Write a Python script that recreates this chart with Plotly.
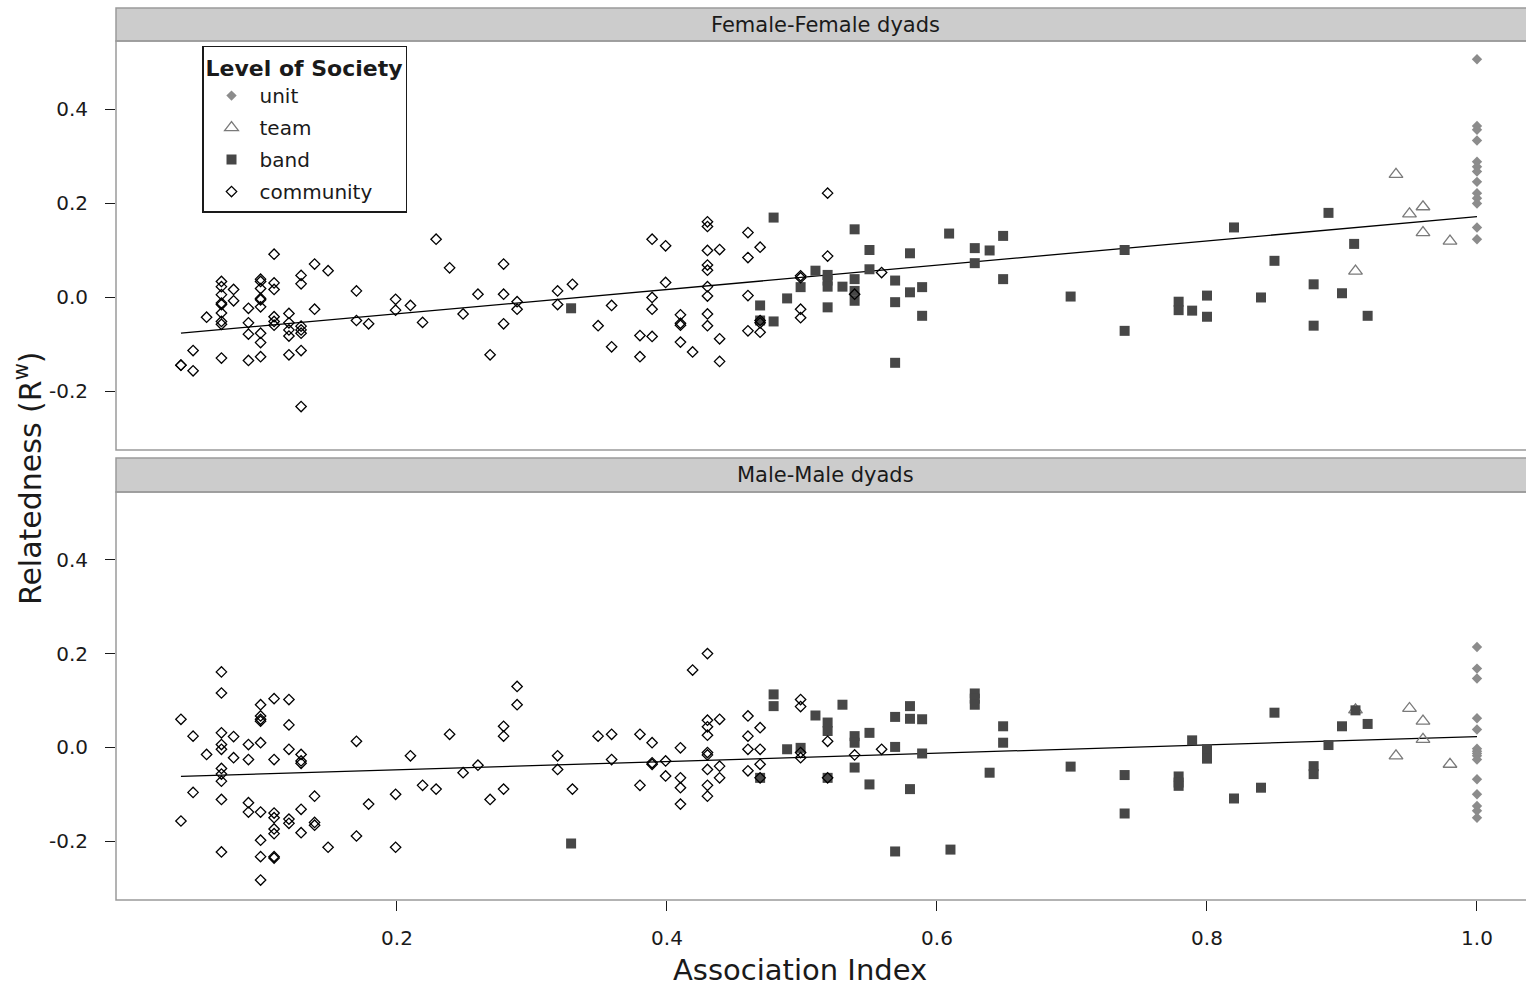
import plotly.graph_objects as go

# ---------------- data ----------------
x_ticks = [0.2, 0.4, 0.6, 0.8, 1.0]
x_tick_labels = ["0.2", "0.4", "0.6", "0.8", "1.0"]
y_ticks = [-0.2, 0.0, 0.2, 0.4]
y_tick_labels = ["-0.2", "0.0", "0.2", "0.4"]
panel_titles = ["Female-Female dyads", "Male-Male dyads"]
categories = ["unit", "team", "band", "community"]

# Female-Female dyads
ff_unit_x = [1.0, 1.0, 1.0, 1.0, 1.0, 1.0, 1.0, 1.0, 1.0, 1.0, 1.0, 1.0, 1.0]
ff_unit_y = [0.506, 0.364, 0.356, 0.333, 0.288, 0.277, 0.267, 0.245, 0.221, 0.21, 0.199, 0.148, 0.123]

ff_team_x = [0.91, 0.94, 0.95, 0.96, 0.96, 0.98]
ff_team_y = [0.055, 0.261, 0.177, 0.192, 0.137, 0.119]

ff_band_x = [0.329, 0.469, 0.469, 0.479, 0.479, 0.489, 0.499, 0.51, 0.519, 0.519, 0.519, 0.519,
             0.53, 0.539, 0.539, 0.539, 0.539, 0.55, 0.55, 0.569, 0.569, 0.569, 0.58, 0.58,
             0.589, 0.589, 0.609, 0.628, 0.628, 0.639, 0.649, 0.649, 0.699, 0.739, 0.739,
             0.779, 0.779, 0.789, 0.8, 0.8, 0.82, 0.84, 0.85, 0.879, 0.879, 0.89, 0.9, 0.909, 0.919]
ff_band_y = [-0.024, -0.018, -0.05, 0.169, -0.052, -0.003, 0.021, 0.056, 0.047, 0.035, 0.022, -0.022,
             0.022, 0.144, 0.038, 0.013, -0.008, 0.1, 0.059, 0.035, -0.011, -0.14, 0.093, 0.01,
             0.021, -0.04, 0.135, 0.104, 0.072, 0.099, 0.13, 0.038, 0.001, 0.1, -0.072,
             -0.01, -0.028, -0.029, 0.003, -0.042, 0.148, -0.001, 0.077, 0.027, -0.061, 0.179, 0.008, 0.113, -0.04]

ff_comm_x = [0.04, 0.04, 0.049, 0.049, 0.059,
             0.07, 0.07, 0.07, 0.07, 0.07, 0.07, 0.07, 0.07, 0.07,
             0.079, 0.079, 0.09, 0.09, 0.09, 0.09,
             0.099, 0.099, 0.099, 0.099, 0.099, 0.099, 0.099, 0.099, 0.099,
             0.109, 0.109, 0.109, 0.109, 0.109, 0.109,
             0.12, 0.12, 0.12, 0.12, 0.12,
             0.129, 0.129, 0.129, 0.129, 0.129, 0.129, 0.129,
             0.139, 0.139, 0.149, 0.17, 0.17, 0.179, 0.199, 0.199, 0.21, 0.219, 0.229, 0.239,
             0.249, 0.26, 0.269, 0.279, 0.279, 0.279, 0.289, 0.289, 0.319, 0.319, 0.33, 0.349,
             0.359, 0.359, 0.38, 0.38, 0.389, 0.389, 0.389, 0.389, 0.399, 0.399,
             0.41, 0.41, 0.41, 0.41, 0.419,
             0.43, 0.43, 0.43, 0.43, 0.43, 0.43, 0.43, 0.43, 0.43,
             0.439, 0.439, 0.439, 0.46, 0.46, 0.46, 0.46, 0.469, 0.469, 0.469, 0.469,
             0.499, 0.499, 0.499, 0.499, 0.519, 0.519, 0.539, 0.559]
ff_comm_y = [-0.145, -0.145, -0.114, -0.157, -0.043,
             0.033, 0.022, 0.005, -0.013, -0.016, -0.034, -0.052, -0.058, -0.13,
             0.016, -0.008, -0.024, -0.055, -0.079, -0.135,
             0.038, 0.033, 0.018, -0.003, -0.006, -0.021, -0.077, -0.097, -0.127,
             0.091, 0.03, 0.016, -0.042, -0.052, -0.06,
             -0.035, -0.055, -0.07, -0.083, -0.123,
             0.046, 0.028, -0.062, -0.07, -0.077, -0.114, -0.233,
             0.07, -0.026, 0.056, 0.013, -0.05, -0.057, -0.005, -0.028, -0.018, -0.054, 0.123, 0.062,
             -0.036, 0.006, -0.123, 0.07, 0.006, -0.057, -0.01, -0.026, 0.013, -0.016, 0.027, -0.061,
             -0.018, -0.106, -0.082, -0.127, 0.123, -0.001, -0.026, -0.084, 0.109, 0.031,
             -0.038, -0.056, -0.06, -0.096, -0.117,
             0.16, 0.15, 0.099, 0.068, 0.057, 0.022, 0.002, -0.036, -0.061,
             0.101, -0.089, -0.137, 0.137, 0.084, 0.003, -0.072, 0.106, -0.05, -0.055, -0.075,
             0.045, 0.041, -0.026, -0.044, 0.221, 0.087, 0.006, 0.052]

ff_fit_x = [0.04, 1.0]
ff_fit_y = [-0.077, 0.171]

# Male-Male dyads
mm_unit_x = [1.0, 1.0, 1.0, 1.0, 1.0, 1.0, 1.0, 1.0, 1.0, 1.0, 1.0, 1.0, 1.0, 1.0, 1.0]
mm_unit_y = [0.214, 0.168, 0.147, 0.062, 0.038, -0.003, -0.008, -0.013, -0.018, -0.026,
             -0.068, -0.1, -0.125, -0.135, -0.15]

mm_team_x = [0.91, 0.94, 0.95, 0.96, 0.96, 0.98]
mm_team_y = [0.08, -0.018, 0.083, 0.056, 0.017, -0.036]

mm_band_x = [0.329, 0.469, 0.479, 0.479, 0.489, 0.499, 0.51, 0.519, 0.519, 0.519, 0.53,
             0.539, 0.539, 0.539, 0.55, 0.55, 0.569, 0.569, 0.569, 0.58, 0.58, 0.58,
             0.589, 0.589, 0.61, 0.628, 0.628, 0.628, 0.639, 0.649, 0.649, 0.699, 0.739, 0.739,
             0.779, 0.779, 0.779, 0.789, 0.8, 0.8, 0.82, 0.84, 0.85, 0.879, 0.879, 0.89, 0.9, 0.91, 0.919]
mm_band_y = [-0.205, -0.065, 0.113, 0.088, -0.004, -0.001, 0.068, 0.053, 0.035, -0.065, 0.091,
             0.024, 0.01, -0.043, 0.031, -0.079, 0.065, 0.001, -0.222, 0.088, 0.061, -0.089,
             0.06, -0.013, -0.218, 0.115, 0.104, 0.091, -0.054, 0.045, 0.01, -0.041, -0.059, -0.141,
             -0.062, -0.075, -0.082, 0.015, -0.004, -0.024, -0.109, -0.086, 0.074, -0.04, -0.057, 0.005, 0.045, 0.079, 0.05]

mm_comm_x = [0.04, 0.04, 0.049, 0.049, 0.059,
             0.07, 0.07, 0.07, 0.07, 0.07, 0.07, 0.07, 0.07, 0.07, 0.07,
             0.079, 0.079, 0.09, 0.09, 0.09, 0.09,
             0.099, 0.099, 0.099, 0.099, 0.099, 0.099, 0.099, 0.099, 0.099,
             0.109, 0.109, 0.109, 0.109, 0.109, 0.109, 0.109, 0.109,
             0.12, 0.12, 0.12, 0.12, 0.12,
             0.129, 0.129, 0.129, 0.129, 0.129,
             0.139, 0.139, 0.139, 0.149, 0.17, 0.17, 0.179, 0.199, 0.199, 0.21, 0.219, 0.229,
             0.239, 0.249, 0.26, 0.269, 0.279, 0.279, 0.279, 0.289, 0.289, 0.319, 0.319, 0.33,
             0.349, 0.359, 0.359, 0.38, 0.38, 0.389, 0.389, 0.389, 0.399, 0.399,
             0.41, 0.41, 0.41, 0.41, 0.419,
             0.43, 0.43, 0.43, 0.43, 0.43, 0.43, 0.43, 0.43, 0.43,
             0.439, 0.439, 0.439, 0.46, 0.46, 0.46, 0.46, 0.469, 0.469, 0.469, 0.469,
             0.499, 0.499, 0.499, 0.499, 0.519, 0.519, 0.539, 0.559]
mm_comm_y = [0.06, -0.157, 0.024, -0.096, -0.015,
             0.161, 0.116, 0.031, 0.006, -0.004, -0.045, -0.057, -0.072, -0.111, -0.223,
             0.023, -0.022, 0.006, -0.026, -0.118, -0.138,
             0.091, 0.067, 0.06, 0.056, 0.01, -0.138, -0.198, -0.233, -0.283,
             0.104, -0.026, -0.14, -0.15, -0.174, -0.184, -0.233, -0.236,
             0.102, 0.048, -0.004, -0.153, -0.162,
             -0.015, -0.029, -0.034, -0.132, -0.182,
             -0.104, -0.16, -0.166, -0.213, 0.013, -0.189, -0.121, -0.1, -0.213, -0.018, -0.081, -0.089,
             0.028, -0.054, -0.038, -0.111, 0.045, 0.024, -0.089, 0.13, 0.091, -0.018, -0.047, -0.089,
             0.024, 0.028, -0.026, 0.028, -0.081, 0.01, -0.033, -0.036, -0.029, -0.061,
             -0.001, -0.065, -0.086, -0.121, 0.165,
             0.2, 0.058, 0.044, 0.026, -0.011, -0.016, -0.047, -0.081, -0.104,
             0.06, -0.04, -0.065, 0.067, 0.024, -0.004, -0.05, 0.042, -0.004, -0.036, -0.065,
             0.102, 0.087, -0.011, -0.022, 0.013, -0.065, -0.016, -0.004]

mm_fit_x = [0.04, 1.0]
mm_fit_y = [-0.062, 0.023]

# ---------------- styles ----------------
FONT = "DejaVu Sans"
styles = {
    "unit": dict(symbol="diamond", size=8, color="#8c8c8c", line=dict(width=0)),
    "team": dict(symbol="triangle-up-open", size=12, color="#7a7a7a", line=dict(width=1.3, color="#7a7a7a")),
    "band": dict(symbol="square", size=10, color="#474747", line=dict(width=0)),
    "community": dict(symbol="diamond-open", size=8, color="#000000", line=dict(width=1.3, color="#000000")),
}

fig = go.Figure()

panels = [
    ("x", "y", {"unit": (ff_unit_x, ff_unit_y), "team": (ff_team_x, ff_team_y),
                "band": (ff_band_x, ff_band_y), "community": (ff_comm_x, ff_comm_y)},
     (ff_fit_x, ff_fit_y), True),
    ("x2", "y2", {"unit": (mm_unit_x, mm_unit_y), "team": (mm_team_x, mm_team_y),
                  "band": (mm_band_x, mm_band_y), "community": (mm_comm_x, mm_comm_y)},
     (mm_fit_x, mm_fit_y), False),
]

for xa, ya, series, fit, show in panels:
    fig.add_trace(go.Scatter(x=fit[0], y=fit[1], mode="lines", xaxis=xa, yaxis=ya,
                             line=dict(color="black", width=1.3), showlegend=False,
                             hoverinfo="skip"))
    for cat in categories:
        sx, sy = series[cat]
        fig.add_trace(go.Scatter(x=sx, y=sy, mode="markers", name=cat, xaxis=xa, yaxis=ya,
                                 marker=styles[cat], showlegend=show, legendgroup=cat))

XR = [-0.0081, 1.0363]
YR = [-0.3255, 0.5447]

top_dom = [0.5045, 0.9630]
bot_dom = [0.0, 0.4574]
top_strip = [0.9630, 1.0]
bot_strip = [0.4574, 0.4955]

tickfont = dict(family=FONT, size=20, color="#1a1a1a")

fig.update_layout(
    width=1526, height=989,
    margin=dict(l=116, r=0, t=8, b=89),
    paper_bgcolor="white", plot_bgcolor="white",
    font=dict(family=FONT, color="#1a1a1a"),
    xaxis=dict(domain=[0, 1], range=XR, anchor="y", showgrid=False, zeroline=False,
               showticklabels=False, ticks="", showline=False),
    yaxis=dict(domain=top_dom, range=YR, anchor="x", showgrid=False, zeroline=False,
               tickvals=y_ticks, ticktext=y_tick_labels, ticks="outside", ticklen=10,
               tickwidth=1.3, tickcolor="#1a1a1a", tickfont=tickfont, ticklabelstandoff=13,
               showline=False),
    xaxis2=dict(domain=[0, 1], range=XR, anchor="y2", matches="x", showgrid=False, zeroline=False,
                tickvals=x_ticks, ticktext=x_tick_labels, ticks="outside", ticklen=10,
                tickwidth=1.3, tickcolor="#1a1a1a", tickfont=tickfont, ticklabelstandoff=10,
                showline=False),
    yaxis2=dict(domain=bot_dom, range=YR, anchor="x2", showgrid=False, zeroline=False,
                tickvals=y_ticks, ticktext=y_tick_labels, ticks="outside", ticklen=10,
                tickwidth=1.3, tickcolor="#1a1a1a", tickfont=tickfont, ticklabelstandoff=13,
                showline=False),
    legend=dict(x=0.061, y=0.9574, xanchor="left", yanchor="top",
                bgcolor="white", bordercolor="#1a1a1a", borderwidth=1.5,
                font=dict(family=FONT, size=20, color="#1a1a1a"),
                title=dict(text="<b>Level of Society</b>", font=dict(family=FONT, size=22)),
                tracegroupgap=3, itemsizing="trace", itemwidth=46),
)

shapes = []
for dom in (top_strip, bot_strip):
    shapes.append(dict(type="rect", xref="paper", yref="paper", x0=0, x1=1.01, y0=dom[0], y1=dom[1],
                       fillcolor="#cccccc", line=dict(color="#9a9a9a", width=1.5), layer="below"))
for dom in (top_dom, bot_dom):
    shapes.append(dict(type="rect", xref="paper", yref="paper", x0=0, x1=1.01, y0=dom[0], y1=dom[1],
                       fillcolor="rgba(0,0,0,0)", line=dict(color="#9a9a9a", width=1.5), layer="above"))
fig.update_layout(shapes=shapes)

annotations = [
    dict(text=panel_titles[0], xref="paper", yref="paper", x=0.5035, y=sum(top_strip) / 2,
         showarrow=False, font=dict(family=FONT, size=21, color="#1a1a1a"), xanchor="center", yanchor="middle"),
    dict(text=panel_titles[1], xref="paper", yref="paper", x=0.5035, y=sum(bot_strip) / 2,
         showarrow=False, font=dict(family=FONT, size=21, color="#1a1a1a"), xanchor="center", yanchor="middle"),
    dict(text="Association Index", xref="paper", yref="paper", x=0.485, y=-0.0995,
         showarrow=False, font=dict(family=FONT, size=29, color="#1a1a1a"), xanchor="center", yanchor="bottom"),
    dict(text="Relatedness (R<sup>w</sup>)", xref="paper", yref="paper", x=-0.0624, y=0.473,
         showarrow=False, textangle=-90, font=dict(family=FONT, size=30, color="#1a1a1a"),
         xanchor="center", yanchor="middle"),
]
fig.update_layout(annotations=annotations)

fig.write_html("out.html", config={"displayModeBar": False},
               post_script="document.body.style.margin='0px';document.body.style.overflow='hidden';")
